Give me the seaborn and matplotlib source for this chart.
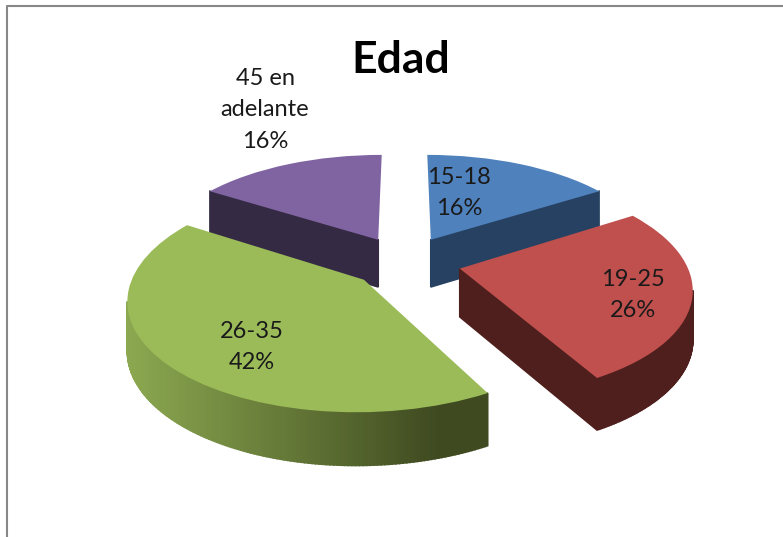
import numpy as np
import matplotlib
matplotlib.use('Agg')
import matplotlib.pyplot as plt
import matplotlib.transforms as mtransforms
from matplotlib.colors import LinearSegmentedColormap
import seaborn as sns

categories = ['15-18', '19-25', '26-35', '45 en\nadelante']
values = [16, 26, 42, 16]
title = 'Edad'

top_colors = ['#4f81bd', '#c0504d', '#9bbb59', '#8064a2']
wall_colors = [('#264161', '#264161'), ('#4f1f1d', '#4f1f1d'),
               ('#8ba850', '#3f4a20'), ('#352a44', '#352a44')]
explode = [0.25, 0.25, 0.24, 0.25]
label_pos = [(459, 193), (633, 295), (252, 347), (265, 110)]
draw_rank = [2, 3, 4, 1]

sns.set_theme(style='white')
plt.rcParams['font.family'] = ['Lato', 'DejaVu Sans']

CX, CY = 404.5, 262
RX, RY = 226, 105
TILT = 0.16
DEPTH = 48


class Tilt(mtransforms.Transform):
    # flat pie plane to picture pixels, front of the pie comes out bigger
    input_dims = 2
    output_dims = 2

    def __init__(self, drop=0):
        super().__init__()
        self.drop = drop

    def transform_non_affine(self, values):
        values = np.asarray(values, dtype=float)
        s = 1 / (1 + TILT * values[:, 1])
        return np.column_stack([CX + RX * values[:, 0] * s,
                                CY - RY * values[:, 1] * s + self.drop * np.sqrt(s)])


fig = plt.figure(figsize=(7.83, 5.37), dpi=100)
ax = fig.add_axes([0, 0, 1, 1])
wedges, _ = ax.pie(values, colors=sns.color_palette(top_colors), explode=explode,
                   startangle=90, counterclock=False, wedgeprops={'linewidth': 0})
ax.set_aspect('auto')
ax.set_xlim(0, 783)
ax.set_ylim(537, 0)
ax.axis('off')

top = Tilt()
bottom = Tilt(DEPTH)
for i, w in enumerate(wedges):
    w.set_transform(top + ax.transData)
    w.set_zorder(draw_rank[i] + 0.5)

    # side walls of the slice: two cut faces and the rim
    ang = np.radians(np.linspace(w.theta1, w.theta2, 200))
    rim = np.column_stack([w.center[0] + w.r * np.cos(ang), w.center[1] + w.r * np.sin(ang)])
    outline = np.vstack([[w.center], rim, [w.center]])
    t = top.transform(outline)
    b = bottom.transform(outline)
    cmap = LinearSegmentedColormap.from_list('wall', wall_colors[i])
    for j in range(len(outline) - 1):
        dx = t[j + 1, 0] - t[j, 0]
        dy = t[j + 1, 1] - t[j, 1]
        # going counter clockwise, only the parts running to the right face us
        if dx <= 0:
            continue
        # nearly upright cut faces are seen edge on
        if j in (0, len(outline) - 2) and dx < 0.2 * abs(dy):
            continue
        mid_x = (t[j, 0] + t[j + 1, 0]) / 2
        col = cmap(np.clip((mid_x - 130) / (440 - 130), 0, 1))
        ax.fill([t[j, 0], t[j + 1, 0], b[j + 1, 0], b[j, 0]],
                [t[j, 1], t[j + 1, 1], b[j + 1, 1], b[j, 1]],
                color=col, lw=1.2, zorder=draw_rank[i])

    ax.text(label_pos[i][0], label_pos[i][1], f'{categories[i]}\n{values[i]}%', ha='center',
            va='center', fontsize=17, color='#1a1a1a', linespacing=1.6, zorder=10)

ax.text(401, 60, title, ha='center', va='center', fontsize=32, fontweight='bold',
        color='black', zorder=10)

# chart area border, only left and top are in the picture
ax.plot([7, 7, 783], [537, 6, 6], color='#878787', lw=1.5, zorder=1, clip_on=False)

fig.savefig('out.png', dpi=100, facecolor='white')
